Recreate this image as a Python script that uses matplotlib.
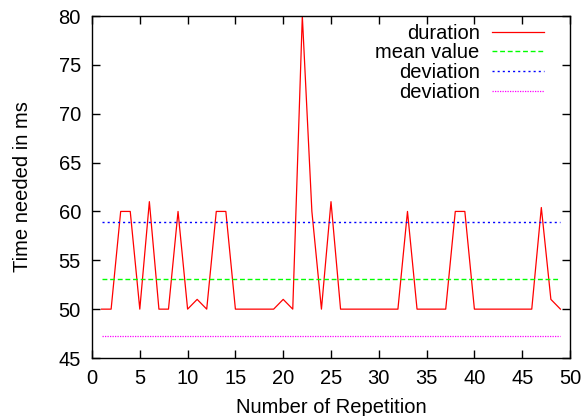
import matplotlib
matplotlib.use("Agg")
import matplotlib.pyplot as plt

plt.rcParams['font.family'] = ['Liberation Sans', 'DejaVu Sans']

# repetitions and measured durations (ms)
repetition = list(range(1, 50))
duration = [50, 50, 60, 60, 50, 61, 50, 50, 60, 50,
            51, 50, 60, 60, 50, 50, 50, 50, 50, 51,
            50, 80, 60, 50, 61, 50, 50, 50, 50, 50,
            50, 50, 60, 50, 50, 50, 50, 60, 60, 50,
            50, 50, 50, 50, 50, 50, 60.4, 51, 50]
mean_value = 53.13
std_dev = 5.83

fig = plt.figure(figsize=(5.84, 4.16), dpi=100)
ax = fig.add_axes([92/584, 58/416, 478/584, 342/416])

ax.plot(repetition, duration, color='#ff0000', lw=0.9, label='duration')
ax.plot(repetition, [mean_value]*len(repetition), color='#00ff00', lw=1.0,
        dashes=(3.5, 2), label='mean value')
ax.plot(repetition, [mean_value + std_dev]*len(repetition), color='#0000ff', lw=1.0,
        dashes=(1.5, 2.2), label='deviation')
ax.plot(repetition, [mean_value - std_dev]*len(repetition), color='#ff00ff', lw=0.9,
        dashes=(1, 1), label='deviation')

ax.set_xlim(0, 50)
ax.set_ylim(45, 80)
ax.set_xticks(range(0, 51, 5))
ax.set_yticks(range(45, 81, 5))
ax.tick_params(direction='in', length=6, width=1, top=True, right=True,
               labelsize=14.5, pad=8)
for s in ax.spines.values():
    s.set_linewidth(1)

ax.set_xlabel('Number of Repetition', fontsize=14.5, labelpad=7)
ax.set_ylabel('Time needed in ms', fontsize=14.5, labelpad=19)

ax.legend(loc='upper right', bbox_to_anchor=(0.9456, 0.977), frameon=False,
          markerfirst=False, fontsize=14.5, handlelength=2.6, handletextpad=0.6,
          labelspacing=0.03, borderpad=0, borderaxespad=0)

fig.savefig('out.png', dpi=100)
